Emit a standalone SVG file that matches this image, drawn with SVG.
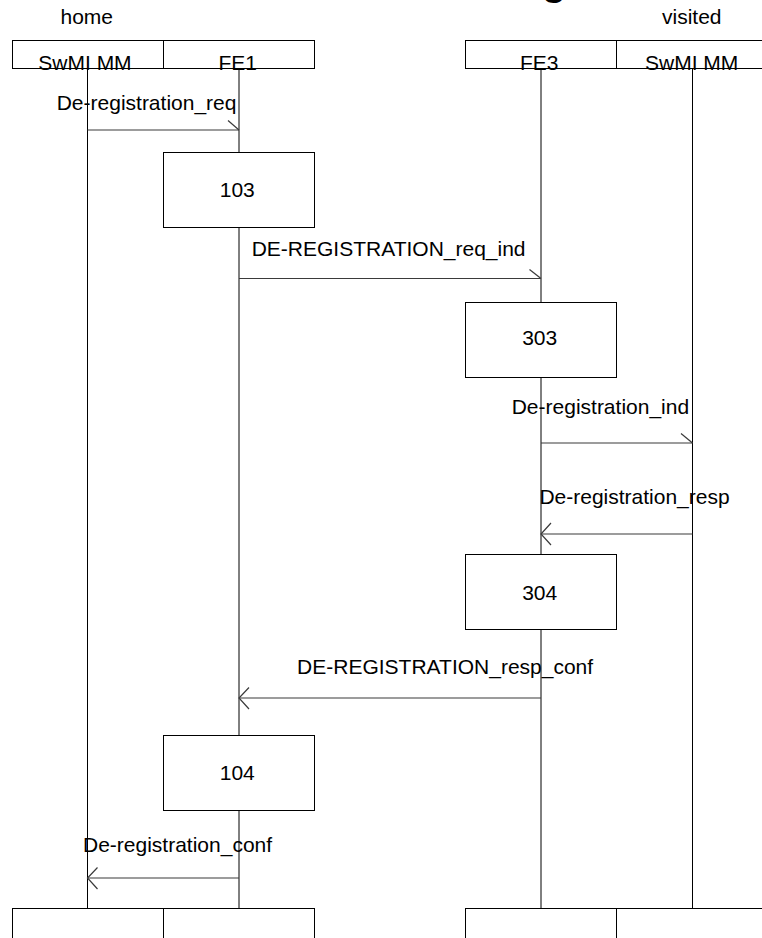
<svg xmlns="http://www.w3.org/2000/svg" width="762" height="938" viewBox="0 0 762 938">
<style>
  text { font-family: "Liberation Sans", Arial, sans-serif; font-size: 21px; fill: #000; }
  .box { fill: #fff; stroke: #000; stroke-width: 1; }
  .life { stroke: #000; stroke-width: 1; fill: none; }
  .msg { stroke: #3a3a3a; stroke-width: 1.2; fill: none; }
  .head { stroke: #000; stroke-width: 1; fill: none; }
  .title { font-weight: bold; font-size: 40px; }
</style>
<rect x="0" y="0" width="762" height="938" fill="#fff"/>
<text class="title" x="542" y="-5.5">g</text>
<text x="60.5" y="24">home</text>
<text x="662" y="24">visited</text>

<g id="lifelines">
  <line class="life" x1="87.5" y1="68.5" x2="87.5" y2="908.5"/>
  <line class="life" x1="239" y1="68.5" x2="239" y2="908.5"/>
  <line class="life" x1="541" y1="68.5" x2="541" y2="908.5"/>
  <line class="life" x1="692.5" y1="68.5" x2="692.5" y2="908.5"/>
</g>

<g id="node-home-swmi-mm">
  <rect class="box" x="12.5" y="40.5" width="151" height="28" fill="none"/>
  <text x="38.3" y="69.5">SwMI MM</text>
  <rect class="box" x="12.5" y="908.5" width="151" height="40"/>
</g>
<g id="node-home-fe1">
  <rect class="box" x="163.5" y="40.5" width="151" height="28" fill="none"/>
  <text x="218.4" y="69.5">FE1</text>
  <rect class="box" x="163.5" y="908.5" width="151" height="40"/>
</g>
<g id="node-visited-fe3">
  <rect class="box" x="465.5" y="40.5" width="151" height="28" fill="none"/>
  <text x="520" y="69.5">FE3</text>
  <rect class="box" x="465.5" y="908.5" width="151" height="40"/>
</g>
<g id="node-visited-swmi-mm">
  <rect class="box" x="616.5" y="40.5" width="151" height="28" fill="none"/>
  <text x="645" y="69.5">SwMI MM</text>
  <rect class="box" x="616.5" y="908.5" width="151" height="40"/>
</g>

<g id="node-103">
  <rect class="box" x="163.5" y="152.5" width="151" height="75" fill="none"/>
  <text x="237.3" y="196.5" text-anchor="middle">103</text>
</g>
<g id="node-303">
  <rect class="box" x="465.5" y="302.5" width="151" height="75" fill="none"/>
  <text x="539.7" y="344.5" text-anchor="middle">303</text>
</g>
<g id="node-304">
  <rect class="box" x="465.5" y="554.5" width="151" height="75" fill="none"/>
  <text x="539.7" y="600" text-anchor="middle">304</text>
</g>
<g id="node-104">
  <rect class="box" x="163.5" y="735.5" width="151" height="75" fill="none"/>
  <text x="237.3" y="780" text-anchor="middle">104</text>
</g>

<g id="connectors">
  <g id="msg-de-registration-req">
    <line class="msg" x1="87.5" y1="130" x2="239" y2="130"/>
    <line class="msg" x1="228" y1="120.5" x2="239" y2="130"/>
    <text x="56.7" y="110">De-registration_req</text>
  </g>
  <g id="msg-de-registration-req-ind">
    <line class="msg" x1="239" y1="278.5" x2="541" y2="278.5"/>
    <line class="msg" x1="529.5" y1="269.5" x2="541" y2="278.5"/>
    <text x="251.7" y="256">DE-REGISTRATION_req_ind</text>
  </g>
  <g id="msg-de-registration-ind">
    <line class="msg" x1="541" y1="443" x2="692.5" y2="443"/>
    <line class="msg" x1="681" y1="433.5" x2="692.5" y2="443"/>
    <text x="511.7" y="413.5">De-registration_ind</text>
  </g>
  <g id="msg-de-registration-resp">
    <line class="msg" x1="692.5" y1="534" x2="541" y2="534"/>
    <polyline class="msg" points="551,523 541,534 551,545"/>
    <text x="539.4" y="503.5">De-registration_resp</text>
  </g>
  <g id="msg-de-registration-resp-conf">
    <line class="msg" x1="541" y1="698" x2="239" y2="698"/>
    <polyline class="msg" points="249,687.5 239,698 249,709"/>
    <text x="297.1" y="673.5">DE-REGISTRATION_resp_conf</text>
  </g>
  <g id="msg-de-registration-conf">
    <line class="msg" x1="239" y1="878" x2="87.5" y2="878"/>
    <polyline class="msg" points="97.5,867.5 87.5,878 97.5,889"/>
    <text x="83" y="852">De-registration_conf</text>
  </g>
</g>
</svg>
